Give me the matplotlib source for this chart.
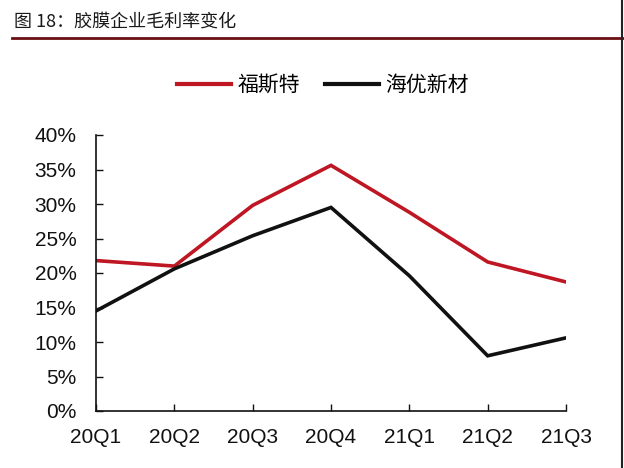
import matplotlib
matplotlib.use("Agg")
import matplotlib.pyplot as plt
from matplotlib.lines import Line2D

plt.rcParams['font.family'] = ['Liberation Sans', 'Noto Sans CJK SC', 'DejaVu Sans']

quarters = ['20Q1', '20Q2', '20Q3', '20Q4', '21Q1', '21Q2', '21Q3']
fst = [21.8, 21.0, 29.8, 35.6, 28.8, 21.6, 18.7]      # 福斯特
hy = [14.5, 20.6, 25.4, 29.5, 19.6, 8.0, 10.6]        # 海优新材
series_names = ['福斯特', '海优新材']
yticks = [0, 5, 10, 15, 20, 25, 30, 35, 40]

red = '#BE1622'
black = '#111111'

fig = plt.figure(figsize=(6.24, 4.68), dpi=100)
ax = fig.add_axes([96/624, 1-411/468, (566-96)/624, (411-135)/468])

x = list(range(len(quarters)))
ax.plot(x, fst, color=red, lw=2.6, solid_joinstyle='miter')
ax.plot(x, hy, color=black, lw=2.6, solid_joinstyle='miter')

ax.set_xlim(0, len(quarters)-1)
ax.set_ylim(0, 40)
ax.set_xticks(x)
ax.set_xticklabels(quarters)
ax.set_yticks(yticks)
ax.set_yticklabels([f'{v}%' for v in yticks])
ax.tick_params(axis='both', direction='in', length=5, width=1, labelsize=15, colors='#111111')
ax.tick_params(axis='x', pad=12)
ax.tick_params(axis='y', pad=14)
for s in ['top', 'right']:
    ax.spines[s].set_visible(False)
for s in ['left', 'bottom']:
    ax.spines[s].set_linewidth(1.2)
    ax.spines[s].set_color('#111111')

# legend
handles = [Line2D([], [], color=red, lw=3), Line2D([], [], color=black, lw=3)]
fig.legend(handles, series_names, loc='center', bbox_to_anchor=(323/624, 1-85/468),
           ncol=2, frameon=False, handlelength=2.6, handletextpad=0.3, columnspacing=1.2,
           prop={'family': ['Noto Sans CJK SC'], 'size': 15})

# title
fig.text(14/624, 1-22/468, '图 18：胶膜企业毛利率变化', ha='left', va='center',
         fontsize=13, family=['Noto Sans CJK SC'], color='#1a1a1a')
fig.add_artist(Line2D([12/624, 1.0], [1-38/468, 1-38/468], color='#6B0F14', lw=2,
                      transform=fig.transFigure))
fig.add_artist(Line2D([622/624, 622/624], [0, 1], color='#222222', lw=1.5,
                      transform=fig.transFigure))

fig.savefig('out.png', dpi=100)
